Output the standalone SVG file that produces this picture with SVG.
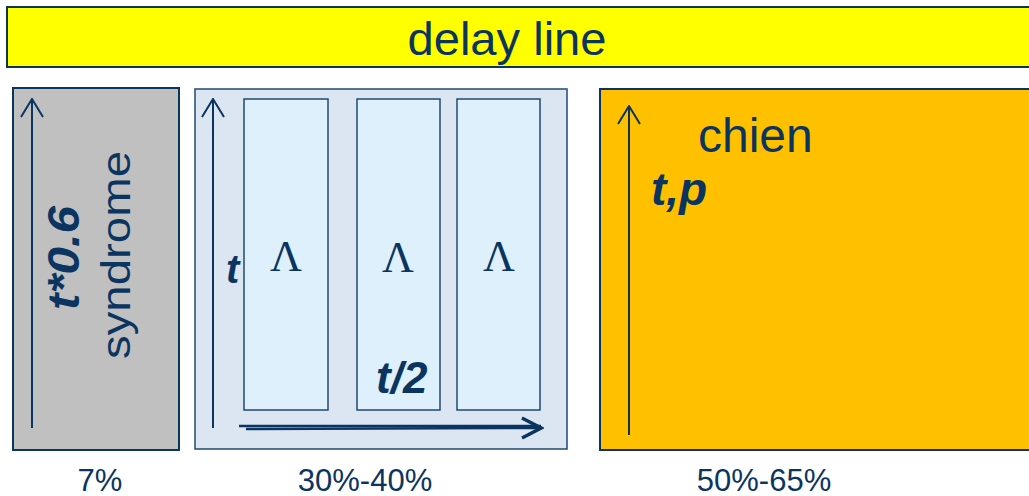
<svg xmlns="http://www.w3.org/2000/svg" width="1029" height="496" viewBox="0 0 1029 496">
<style>
.box{stroke:#0B3560;stroke-width:2}
.inner{fill:#DDF0FC;stroke:#1F4A72;stroke-width:1.5}
.txt{font-family:"Liberation Sans",Arial,sans-serif;fill:#0B3560}
.bi{font-weight:bold;font-style:italic}
.lam{font-family:"Liberation Serif","Times New Roman",serif;fill:#0B3560;font-size:44px;text-anchor:middle}
.ax{stroke:#0B3560;stroke-width:2;fill:none}
</style>
<defs>
<marker id="open" viewBox="0 0 20 24" refX="19" refY="12" markerWidth="20" markerHeight="24" markerUnits="userSpaceOnUse" orient="auto">
<path d="M1,1 L19,12 L1,23" fill="none" stroke="#0B3560" stroke-width="2"/>
</marker>
<marker id="bold" viewBox="0 0 24 24" refX="22" refY="12" markerWidth="24" markerHeight="24" markerUnits="userSpaceOnUse" orient="auto">
<path d="M2,2 L21,12 L2,22" fill="none" stroke="#0B3560" stroke-width="3.5"/>
</marker>
</defs>
<g id="delay-line">
<rect class="box" x="7" y="7" width="1030" height="60" fill="#FFFF00"/>
<text class="txt" x="507" y="55" font-size="47" text-anchor="middle" textLength="199" lengthAdjust="spacingAndGlyphs">delay line</text>
</g>
<g id="syndrome">
<rect class="box" x="13" y="88" width="166" height="362" fill="#C0C0C0"/>
<text class="txt bi" transform="translate(79,258) rotate(-90)" font-size="44" text-anchor="middle" textLength="104" lengthAdjust="spacingAndGlyphs">t*0.6</text>
<text class="txt" transform="translate(130,255) rotate(-90)" font-size="40" text-anchor="middle" textLength="208" lengthAdjust="spacingAndGlyphs">syndrome</text>
</g>
<g id="key-equation">
<rect x="195" y="89" width="372" height="360" fill="#DCE6F2" stroke="#1F4A72" stroke-width="1.5"/>
<rect class="inner" x="244" y="99" width="84" height="311"/>
<rect class="inner" x="357" y="99" width="83" height="311"/>
<rect class="inner" x="457" y="99" width="83" height="311"/>
<text class="lam" x="286" y="271">Λ</text>
<text class="lam" x="398" y="272">Λ</text>
<text class="lam" x="499" y="271">Λ</text>
<text class="txt bi" x="226" y="283" font-size="40">t</text>
<text class="txt bi" x="376" y="393" font-size="44">t/2</text>
</g>
<g id="chien">
<rect class="box" x="600" y="89" width="440" height="361" fill="#FFC000"/>
<text class="txt" x="698" y="152" font-size="48">chien</text>
<text class="txt bi" x="651" y="205" font-size="46">t,p</text>
</g>
<g id="connectors">
<line class="ax" x1="32" y1="428" x2="32" y2="99" marker-end="url(#open)"/>
<line class="ax" x1="213" y1="428" x2="213" y2="99" marker-end="url(#open)"/>
<line class="ax" x1="629" y1="435" x2="629" y2="106" marker-end="url(#open)"/>
<line x1="239" y1="426" x2="541" y2="426" stroke="#0B3560" stroke-width="2.5"/>
<line x1="246" y1="429" x2="542" y2="428" stroke="#0B3560" stroke-width="2.5" marker-end="url(#bold)"/>
</g>
<g id="labels">
<text class="txt" x="100" y="491" font-size="31" text-anchor="middle">7%</text>
<text class="txt" x="365" y="491" font-size="31" text-anchor="middle">30%-40%</text>
<text class="txt" x="764" y="491" font-size="31" text-anchor="middle">50%-65%</text>
</g>
</svg>
